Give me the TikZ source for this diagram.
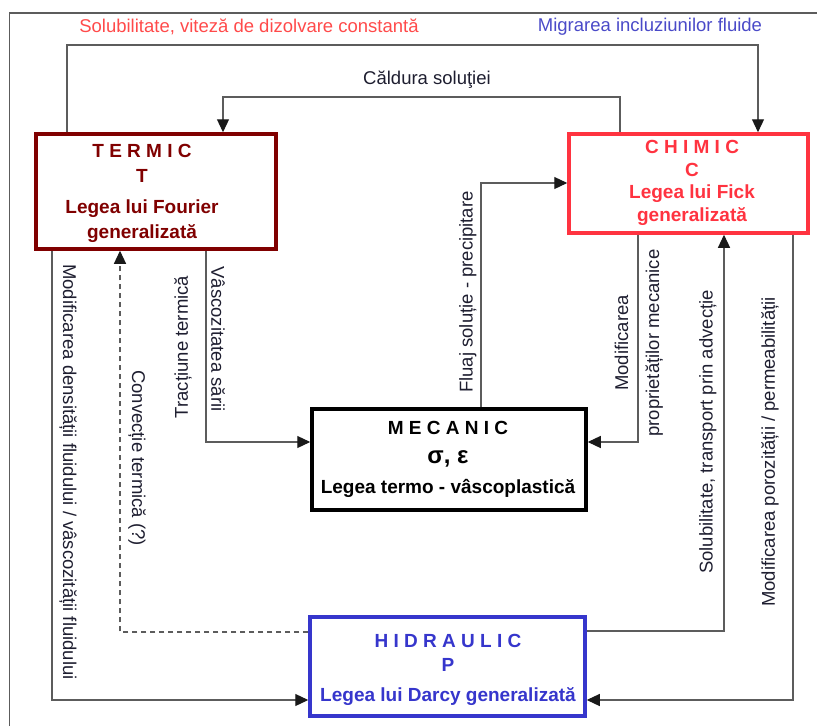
\documentclass[tikz,border=0pt]{standalone}
\usepackage{fontspec}
\setmainfont{Liberation Sans}
\usepackage{xcolor}
\usepackage{tikz}
\usetikzlibrary{arrows.meta,positioning,calc}

\definecolor{termred}{HTML}{800000}
\definecolor{chimred}{HTML}{FF3340}
\definecolor{hidblue}{HTML}{3636CC}
\definecolor{solred}{HTML}{FF4A4A}
\definecolor{migblue}{HTML}{4A4AC8}
\definecolor{linkgray}{HTML}{5C5C5C}
\definecolor{labink}{HTML}{1E1E30}

\begin{document}
\begin{tikzpicture}[x=1pt,y=-1pt,
  every node/.style={font=\fontsize{18.5}{22}\selectfont},
  lbl/.style={inner sep=0pt,text=labink},
  arr/.style={draw=linkgray,line width=1.2pt,-{Triangle[length=13pt,width=12pt,color=black!90]}},
  box/.style={draw=#1,line width=3.5pt,fill=white,inner sep=0pt},
  boxtxt/.style={font=\bfseries\fontsize{19}{#1}\selectfont,align=center,inner sep=0pt}]
\useasboundingbox (0,0) rectangle (817,726);
\draw[linkgray,line width=1.3pt] (9.5,726) -- (9.5,13) -- (817,13);

% the four fields
\node[box=termred,minimum width=240pt,minimum height=115pt] (termic) at (156,191.5) {};
\node[box=chimred,minimum width=239pt,minimum height=99pt] (chimic) at (688.5,183.5) {};
\node[box=black,minimum width=274pt,minimum height=101pt] (mecanic) at (449,459.5) {};
\node[box=hidblue,minimum width=275pt,minimum height=99pt] (hidraulic) at (447.5,666.5) {};

\node[boxtxt=25,text=termred] (termictxt) at (142,193) {T E R M I C\\T\\[6pt]Legea lui Fourier\\generalizată};
\node[boxtxt=22.7,text=chimred] (chimictxt) at (692,183) {C H I M I C\\C\\Legea lui Fick\\generalizată};
\node[boxtxt=29.5] (mecanictxt) at (448,459) {M E C A N I C\\{\fontsize{24}{29}\selectfont σ, ε}\\Legea termo - vâscoplastică};
\node[boxtxt=24,text=hidblue] (hidraulictxt) at (448,670) {H I D R A U L I C\\P\\[6pt]Legea lui Darcy generalizată};

% couplings
\draw[arr] (termic.north -| 67,0) -- (67,45) -- (758,45) -- (chimic.north -| 758,0);
\draw[arr] (chimic.north -| 620,0) -- (620,97) -- (223,97) -- (termic.north -| 223,0);
\draw[arr] (termic.south -| 206,0) |- (mecanic.west |- 0,442);
\draw[arr] (mecanic.north -| 481,0) |- (chimic.west |- 0,183);
\draw[arr] (chimic.south -| 638,0) |- (mecanic.east |- 0,442);
\draw[arr,dash pattern=on 5pt off 4pt] (hidraulic.west |- 0,632) -| (termic.south -| 120,0);
\draw[arr] (termic.south -| 52,0) |- (hidraulic.west |- 0,700);
\draw[arr] (hidraulic.east |- 0,631) -| (chimic.south -| 724,0);
\draw[arr] (chimic.south -| 793,0) |- (hidraulic.east |- 0,700);

\node[lbl,text=solred] (solub) at (249,27) {Solubilitate, viteză de dizolvare constantă};
\node[lbl,text=migblue] (migrare) at (650,27) {Migrarea incluziunilor fluide};
\node[lbl] (caldura) at (427,80) {Căldura soluţiei};
\node[lbl,rotate=-90] (densitate) at (68,472) {Modificarea densității fluidului / vâscozității fluidului};
\node[lbl,rotate=-90] (convectie) at (137,458) {Convecție termică (?)};
\node[lbl,rotate=90] (tractiune) at (183,347) {Tracțiune termică};
\node[lbl,rotate=-90] (vascozitate) at (218,339) {Vâscozitatea sării};
\node[lbl,rotate=90] (fluaj) at (468,292) {Fluaj soluție - precipitare};
\node[lbl,rotate=90,align=center] (proprietati) at (639,343) {Modificarea\\[9pt]proprietăților mecanice};
\node[lbl,rotate=90] (advectie) at (708,432) {Solubilitate, transport prin advecție};
\node[lbl,rotate=90] (porozitate) at (770,452) {Modificarea porozității / permeabilității};
\end{tikzpicture}
\end{document}
